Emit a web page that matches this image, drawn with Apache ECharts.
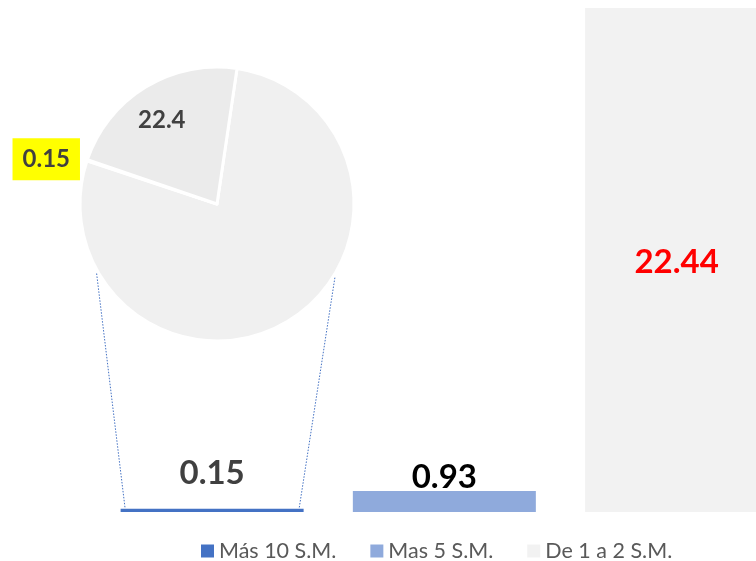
<!DOCTYPE html>
<html>
<head>
<meta charset="utf-8">
<script src="https://cdn.jsdelivr.net/npm/echarts@6/dist/echarts.min.js"></script>
<style>
  html, body { margin: 0; padding: 0; background: #fff; }
  #chart { width: 756px; height: 561px; }
</style>
</head>
<body>
<div id="chart"></div>
<script>
// datos
const categories = ['Más 10 S.M.', 'Mas 5 S.M.', 'De 1 a 2 S.M.']
const barValues = [0.15, 0.93, 22.44]
const barColors = ['#4472c4', '#8faadc', '#f2f2f2']
const pieNames = ['Resto', 'Detalle 0.15', 'Detalle 22.4']
const pieValues = [78.9, 0.15, 22.4]
const pieColors = ['#f0f0f0', '#f0f0f0', '#ebebeb']

const FONT = 'Lato'
const pieCenter = [217, 204]
const pieRadius = 137

const chart = echarts.init(document.getElementById('chart'))

// etiquetas de cada barra
const barLabels = [
  { show: true, position: 'top', distance: 19, color: '#404040', fontSize: 33, fontWeight: 'bold', fontFamily: FONT },
  { show: true, position: 'top', distance: -3, color: '#000000', fontSize: 33, fontWeight: 'bold', fontFamily: FONT },
  { show: true, position: 'inside', offset: [0, 2], color: '#ff0000', fontSize: 33, fontWeight: 'bold', fontFamily: FONT }
]

// la tercera barra se sale del borde derecho, por eso el eje x es de valor
const barSeries = categories.map((name, i) => ({
  name: name,
  type: 'bar',
  barWidth: 183,
  barGap: '-100%',
  itemStyle: { color: barColors[i] },
  label: barLabels[i],
  data: [[i, barValues[i]]]
}))

const pieLabels = [
  { show: false },
  {
    show: true, position: 'inside', offset: [-103, -22],
    color: '#404040', fontSize: 24, fontWeight: 'bold', fontFamily: FONT,
    backgroundColor: '#ffff00', padding: [10, 10, 8, 10]
  },
  {
    show: true, position: 'inside', offset: [-18, -23],
    color: '#404040', fontSize: 24, fontWeight: 'bold', fontFamily: FONT
  }
]

const option = {
  animation: false,
  backgroundColor: '#ffffff',
  grid: { left: 96, right: 0, top: 8, bottom: 49, containLabel: false },
  xAxis: {
    type: 'value',
    min: -0.5,
    max: 2.342,
    show: false
  },
  yAxis: {
    type: 'value',
    min: 0,
    max: 22.44,
    show: false
  },
  legend: {
    data: categories,
    left: 196,
    top: 535,
    itemWidth: 13,
    itemHeight: 13,
    itemGap: 34,
    icon: 'rect',
    textStyle: { color: '#595959', fontSize: 21.5, fontFamily: FONT }
  },
  series: [
    ...barSeries,
    {
      type: 'pie',
      center: pieCenter,
      radius: pieRadius,
      startAngle: 81.6,
      clockwise: true,
      silent: true,
      labelLine: { show: false },
      itemStyle: { borderColor: '#ffffff', borderWidth: 3 },
      data: pieValues.map((v, i) => ({
        name: pieNames[i],
        value: v,
        itemStyle: { color: pieColors[i] },
        label: Object.assign({ formatter: '{c}' }, pieLabels[i])
      }))
    }
  ]
}

chart.setOption(option)

// lineas punteadas entre el pastel y la primera barra
function drawConnectors () {
  const top = chart.convertToPixel({ xAxisIndex: 0, yAxisIndex: 0 }, [0, barValues[0]])
  const half = 87
  const angL = 210 * Math.PI / 180
  const angR = -32 * Math.PI / 180
  const r = pieRadius + 2
  const pL = [pieCenter[0] + r * Math.cos(angL), pieCenter[1] - r * Math.sin(angL)]
  const pR = [pieCenter[0] + r * Math.cos(angR), pieCenter[1] - r * Math.sin(angR)]
  const style = { stroke: '#4472c4', lineWidth: 1, lineDash: [1.5, 1.5] }
  chart.setOption({
    graphic: [
      { type: 'line', shape: { x1: pL[0], y1: pL[1], x2: top[0] - half, y2: top[1] }, style: style, z: 10 },
      { type: 'line', shape: { x1: pR[0], y1: pR[1], x2: top[0] + half, y2: top[1] }, style: style, z: 10 }
    ]
  })
}
drawConnectors()
</script>
</body>
</html>
